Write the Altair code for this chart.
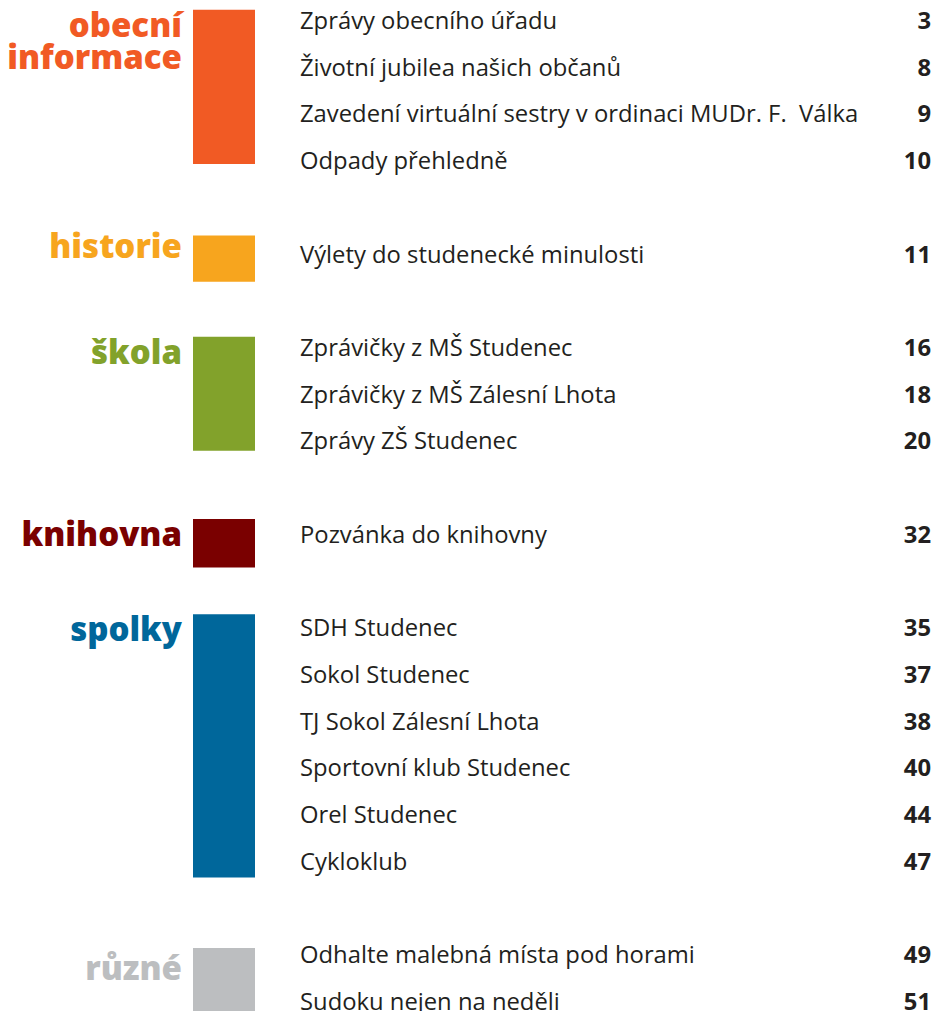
import altair as alt
import pandas as pd

# ---- data ----
section_labels = ["obecní\ninformace", "historie", "škola", "knihovna", "spolky", "různé"]
section_colors = ["#F15A24", "#F7A51E", "#82A22B", "#7A0000", "#00679B", "#BCBEC0"]
section_items = [
    ["Zprávy obecního úřadu", "Životní jubilea našich občanů",
     "Zavedení virtuální sestry v ordinaci MUDr. F.\u00a0 Válka", "Odpady přehledně"],
    ["Výlety do studenecké minulosti"],
    ["Zprávičky z MŠ Studenec", "Zprávičky z MŠ Zálesní Lhota", "Zprávy ZŠ Studenec"],
    ["Pozvánka do knihovny"],
    ["SDH Studenec", "Sokol Studenec", "TJ Sokol Zálesní Lhota",
     "Sportovní klub Studenec", "Orel Studenec", "Cykloklub"],
    ["Odhalte malebná místa pod horami", "Sudoku nejen na neděli"],
]
section_pages = [[3, 8, 9, 10], [11], [16, 18, 20], [32], [35, 37, 38, 40, 44, 47], [49, 51]]

# ---- layout (row units) ----
label_offset = [0.32, 0.06, 0.33, 0.23, 0.26, 0.51]
bar_pad_top = [0.26, 0.43, 0.26, 0.36, 0.32, 0.17]
bar_pad_bottom = [0.04, 0.56, 0.18, 0.68, 0.32, 1.5]

W, H = 924, 1003
ROW_PX = 46.7
FIRST_PX = 14.0
y_domain = [-FIRST_PX / ROW_PX, (H - FIRST_PX) / ROW_PX]

items, labels, bars = [], [], []
row = 0
for s, (lab, col, its, pgs) in enumerate(zip(section_labels, section_colors, section_items, section_pages)):
    start = row
    for t, p in zip(its, pgs):
        items.append({"row": row, "title": t, "page": str(p)})
        row += 1
    end = row - 1
    labels.append({"row": start + label_offset[s], "label": lab, "color": col})
    bars.append({"top": start - bar_pad_top[s], "bottom": end + bar_pad_bottom[s], "color": col})
    row += 1

items_df = pd.DataFrame(items)
labels_df = pd.DataFrame(labels)
bars_df = pd.DataFrame(bars)

yscale = alt.Scale(domain=y_domain, reverse=True, nice=False, zero=False)
noaxis = None

bar_layer = alt.Chart(bars_df).mark_rect().encode(
    x=alt.value(185), x2=alt.value(247),
    y=alt.Y("top:Q", scale=yscale, axis=noaxis),
    y2="bottom:Q",
    color=alt.Color("color:N", scale=None),
)

label_layer = alt.Chart(labels_df).mark_text(
    align="right", baseline="alphabetic", font="Open Sans", fontWeight=800,
    fontSize=33, lineBreak="\n", lineHeight=32,
).encode(
    x=alt.value(174),
    y=alt.Y("row:Q", scale=yscale, axis=noaxis),
    text="label:N",
    color=alt.Color("color:N", scale=None),
)

title_layer = alt.Chart(items_df).mark_text(
    align="left", baseline="middle", font="Open Sans", fontSize=23.8, color="#231F20",
).encode(
    x=alt.value(292),
    y=alt.Y("row:Q", scale=yscale, axis=noaxis),
    text="title:N",
)

page_layer = alt.Chart(items_df).mark_text(
    align="right", baseline="middle", font="Open Sans", fontWeight="bold", fontSize=23.8, color="#231F20",
).encode(
    x=alt.value(923),
    y=alt.Y("row:Q", scale=yscale, axis=noaxis),
    text="page:N",
)

chart = alt.layer(bar_layer, label_layer, title_layer, page_layer).properties(
    width=W, height=H, padding=0,
    autosize=alt.AutoSizeParams(type="none"),
).configure_view(stroke=None)

chart.save("out.html", embed_options={"renderer": "svg", "actions": False})
